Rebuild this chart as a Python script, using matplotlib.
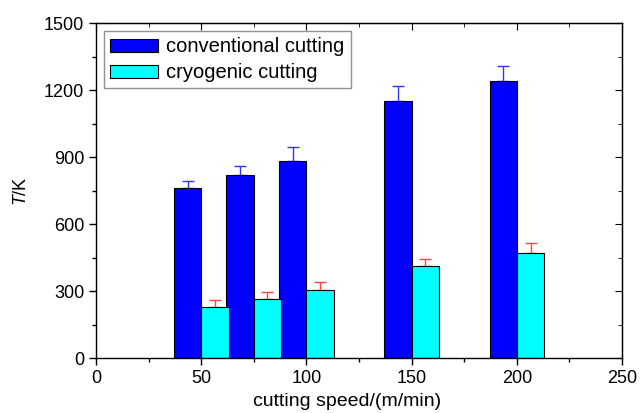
import matplotlib
matplotlib.use('Agg')
import matplotlib.pyplot as plt
from matplotlib.ticker import MultipleLocator
import numpy as np

plt.rcParams['font.family'] = ['Liberation Sans', 'DejaVu Sans']
plt.rcParams['mathtext.fontset'] = 'custom'
plt.rcParams['mathtext.rm'] = 'Liberation Sans'
plt.rcParams['mathtext.it'] = 'Liberation Sans:italic'

speeds = [50, 75, 100, 150, 200]
conventional = [760, 820, 882, 1150, 1240]
conventional_err = [35, 40, 63, 68, 70]
cryogenic = [228, 263, 307, 411, 472]
cryogenic_err = [33, 35, 32, 34, 42]
labels = ['conventional cutting', 'cryogenic cutting']

x = np.array(speeds, dtype=float)
w = 13

fig = plt.figure(figsize=(6.44, 4.13), dpi=100)
ax = fig.add_axes([0.149, 0.133, 0.817, 0.811])

ax.bar(x - w / 2, conventional, w, color='#0000ff', edgecolor='black', linewidth=0.8,
       label=labels[0], zorder=2)
ax.bar(x + w / 2, cryogenic, w, color='#00ffff', edgecolor='black', linewidth=0.8,
       label=labels[1], zorder=2)
ax.errorbar(x - w / 2, conventional, yerr=[np.zeros(len(x)), conventional_err], fmt='none',
            ecolor='#3333ff', elinewidth=1, capsize=4, capthick=1, zorder=1)
ax.errorbar(x + w / 2, cryogenic, yerr=[np.zeros(len(x)), cryogenic_err], fmt='none',
            ecolor='#ff4444', elinewidth=1, capsize=4, capthick=1, zorder=1)

ax.set_xlim(0, 250)
ax.set_ylim(0, 1500)
ax.xaxis.set_major_locator(MultipleLocator(50))
ax.xaxis.set_minor_locator(MultipleLocator(25))
ax.yaxis.set_major_locator(MultipleLocator(300))
ax.yaxis.set_minor_locator(MultipleLocator(150))
ax.tick_params(which='major', direction='out', length=5, width=1, labelsize=13)
ax.tick_params(which='minor', direction='out', length=3, width=1)

top = ax.secondary_xaxis('top')
top.xaxis.set_major_locator(MultipleLocator(50))
top.xaxis.set_minor_locator(MultipleLocator(25))
top.tick_params(which='major', direction='in', length=5, labeltop=False)
top.tick_params(which='minor', direction='in', length=3)
right = ax.secondary_yaxis('right')
right.yaxis.set_major_locator(MultipleLocator(300))
right.yaxis.set_minor_locator(MultipleLocator(150))
right.tick_params(which='major', direction='in', length=5, labelright=False)
right.tick_params(which='minor', direction='in', length=3)

for s in ax.spines.values():
    s.set_linewidth(1)

ax.set_xlabel('cutting speed/(m/min)', fontsize=14)
ax.xaxis.set_label_coords(0.477, -0.105)
ax.set_ylabel('$T$/K', fontsize=13)
ax.yaxis.set_label_coords(-0.125, 0.5)

leg = ax.legend(loc='upper left', fontsize=14.5, frameon=True, fancybox=False,
                edgecolor='#777777', borderaxespad=0.4, handlelength=2.4,
                handleheight=0.6, labelspacing=0.35, borderpad=0.3, handletextpad=0.4)
leg.get_frame().set_linewidth(1)

fig.savefig('out.png', dpi=100)
